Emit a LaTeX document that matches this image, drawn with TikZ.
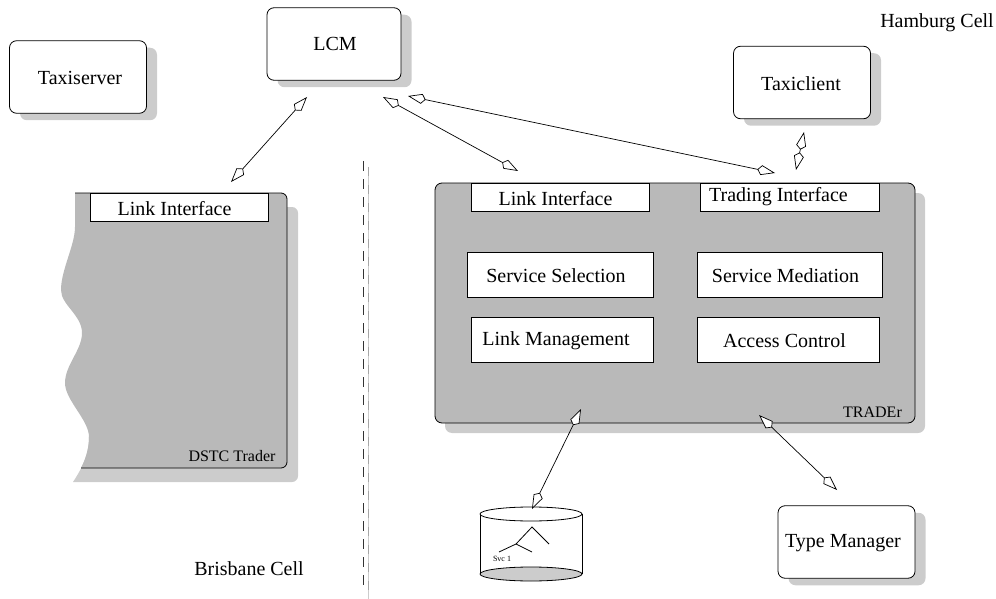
\documentclass[tikz,border=0pt]{standalone}
\usepackage{xcolor}
\usepackage{fontspec}
\setmainfont{Liberation Serif}
\usepackage{tikz}
\usetikzlibrary{arrows.meta,shadows}

\definecolor{tradergray}{gray}{0.725}
\definecolor{shadowgray}{gray}{0.80}

% text inside a box: shift x (twice the offset), shift y
\newcommand{\offtext}[3]{\hspace*{#1pt}\raisebox{#2pt}{#3}}

\begin{document}
\begin{tikzpicture}[x=1pt, y=-1pt, line width=0.8pt,
    boxshadow/.style={drop shadow={shadow xshift=10.5pt, shadow yshift=-7pt, fill=shadowgray, opacity=1}},
    roundbox/.style={draw, fill=white, rounded corners=7pt, minimum width=137pt, minimum height=72.5pt,
        inner sep=0pt, outer sep=0pt, text height=0pt, text depth=0pt, font=\fontsize{20}{24}\selectfont, boxshadow},
    innerbox/.style={draw, fill=white, inner sep=0pt, outer sep=0pt, text height=0pt, text depth=0pt,
        font=\fontsize{20}{24}\selectfont},
    freetext/.style={anchor=base, inner sep=0pt, font=\fontsize{20}{24}\selectfont},
    smalltext/.style={anchor=base, inner sep=0pt, font=\fontsize{16}{19}\selectfont},
    link/.style={line width=0.7pt, {Kite[fill=white, length=18pt, width=10pt, inset=4pt]}-{Kite[fill=white, length=18pt, width=10pt, inset=4pt]}}]
    \useasboundingbox (0,0) rectangle (996,599);

    % top row of processes
    \node[roundbox] (taxiserver) at (78,77) {\offtext{4}{-8}{Taxiserver}};
    \node[roundbox, minimum width=134pt] (lcm) at (334,44) {\offtext{2}{-7}{LCM}};
    \node[roundbox] (taxiclient) at (802,82.5) {\offtext{-2}{-8.5}{Taxiclient}};
    \node[roundbox] (typemanager) at (846.5,542) {\offtext{-7}{-5}{Type Manager}};

    % cell border
    \draw[gray!40] (368.5,167) -- (368.5,599);
    \draw[gray!70, dash pattern=on 9pt off 9pt] (368.5,167) -- (368.5,599);
    \draw[black!80, dash pattern=on 10pt off 8pt] (363,161) -- (363,592);

    % cut-off trader on the left
    \fill[shadowgray] (89,437) .. controls (89,455) and (81,470) .. (73,482)
        [rounded corners=6pt] -- (298,482) -- (298,207) [sharp corners] -- (89,207) -- cycle;
    \fill[tradergray] (75,193) -- (75,227) .. controls (75,245) and (61,270) .. (61,290)
        .. controls (61,305) and (82,315) .. (82,333) .. controls (82,350) and (65,365) .. (65,383)
        .. controls (65,400) and (89,420) .. (89,437) .. controls (89,450) and (85,460) .. (81,468)
        [rounded corners=6pt] -- (287,468) -- (287,193) [sharp corners] -- cycle;
    \draw[rounded corners=6pt] (75,193) -- (287,193) -- (287,468) -- (81,468);
    \node[innerbox, minimum width=178pt, minimum height=28pt] (dstclink) at (179,207) {\offtext{-9}{-8}{Link Interface}};
    \node[smalltext] (dstclabel) at (232,461.5) {DSTC Trader};

    % trader on the right
    \node[draw, fill=tradergray, rounded corners=7pt, minimum width=480pt, minimum height=240pt, outer sep=0pt,
        drop shadow={shadow xshift=10pt, shadow yshift=-10pt, fill=shadowgray, opacity=1}] (trader) at (675,303) {};
    \node[innerbox, minimum width=178pt, minimum height=28pt] (linkif) at (560,197) {\offtext{-9}{-8}{Link Interface}};
    \node[innerbox, minimum width=179pt, minimum height=28pt] (tradingif) at (789.5,197) {\offtext{-22}{-4}{Trading Interface}};
    \node[innerbox, minimum width=186pt, minimum height=45pt] (selection) at (560,274.5) {\offtext{-8}{-7.5}{Service Selection}};
    \node[innerbox, minimum width=182pt, minimum height=45pt] (linkmgmt) at (562,339.5) {\offtext{-12}{-5.5}{Link Management}};
    \node[innerbox, minimum width=185pt, minimum height=45pt] (mediation) at (789.5,274.5) {\offtext{-8}{-7.5}{Service Mediation}};
    \node[innerbox, minimum width=182pt, minimum height=45pt] (access) at (788,339.5) {\offtext{-7}{-7.5}{Access Control}};
    \node[smalltext] (traderlabel) at (872.5,417) {TRADEr};

    % service store
    \fill[white] (480,514) rectangle (582,574);
    \draw[fill=shadowgray] (531,574) ellipse (51 and 7);
    \draw (480,514) -- (480,574) (582,514) -- (582,574);
    \draw[fill=white] (531,514) ellipse (51 and 7);
    \draw (499,552) -- (516,544) -- (532,552) (516,544) -- (532,527) -- (549,544);
    \node[anchor=base, inner sep=0pt, font=\fontsize{8}{10}\selectfont] (svc) at (502,561) {Svc 1};

    % cell names
    \node[freetext] (hamburg) at (937,28) {Hamburg Cell};
    \node[freetext] (brisbane) at (249,575) {Brisbane Cell};

    % connector ends
    \coordinate (lcmleft) at (307,97);
    \coordinate (dstcend) at (231,182);
    \coordinate (lcmmid) at (383,97);
    \coordinate (linkend) at (518,171);
    \coordinate (lcmright) at (408,96);
    \coordinate (tradingend) at (775,173);
    \coordinate (clientend) at (804,132);
    \coordinate (clienttrader) at (796,170);
    \coordinate (traderstore) at (581,409);
    \coordinate (storeend) at (532,509);
    \coordinate (tradertype) at (759,415);
    \coordinate (typeend) at (837,490);

    \draw[link] (lcmleft) -- (dstcend);
    \draw[link] (lcmmid) -- (linkend);
    \draw[link] (lcmright) -- (tradingend);
    \draw[link] (clientend) -- (clienttrader);
    \draw[link] (traderstore) -- (storeend);
    \draw[link] (tradertype) -- (typeend);
\end{tikzpicture}
\end{document}
